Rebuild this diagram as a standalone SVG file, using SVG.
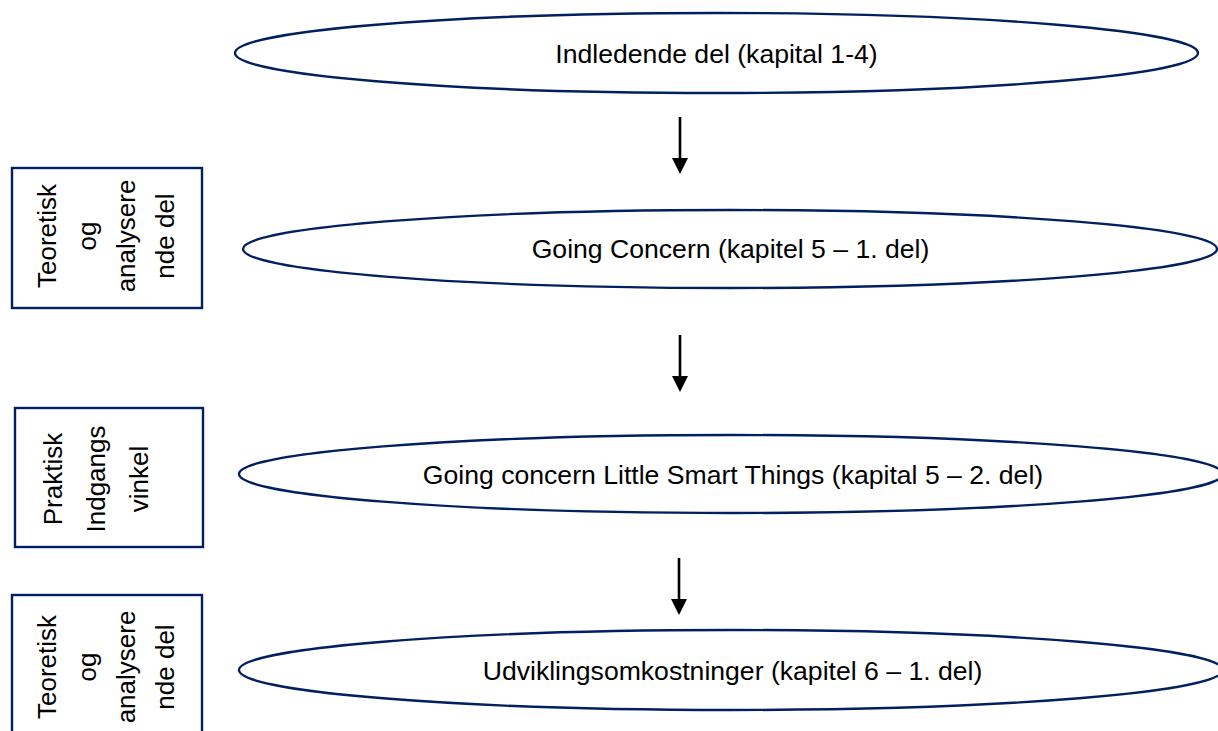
<svg xmlns="http://www.w3.org/2000/svg" width="1218" height="731" viewBox="0 0 1218 731">
<style>
.e{fill:#fff;stroke:#002060;stroke-width:2.4}
.b{fill:#fff;stroke:#002060;stroke-width:2.4}
.t{font-family:"Liberation Sans",Arial,sans-serif;font-size:26px;fill:#000;text-anchor:middle}
.m{font-size:26.6px}
.c{stroke:#000;stroke-width:2.6;fill:none}
</style>
<g id="connectors">
<line class="c" x1="680" y1="117" x2="680" y2="158"/>
<path d="M672,158 L688,158 L680,174 Z" fill="#000"/>
<line class="c" x1="680" y1="335" x2="680" y2="376"/>
<path d="M672,376 L688,376 L680,392 Z" fill="#000"/>
<line class="c" x1="679" y1="558" x2="679" y2="599"/>
<path d="M671,599 L687,599 L679,615 Z" fill="#000"/>
</g>
<g id="n1">
<ellipse class="e" cx="716.5" cy="53" rx="481.5" ry="40"/>
<text class="t m" x="716.5" y="63">Indledende del (kapital 1-4)</text>
</g>
<g id="n2">
<ellipse class="e" cx="730" cy="249" rx="487" ry="39"/>
<text class="t m" x="730.5" y="258">Going Concern (kapitel 5 – 1. del)</text>
</g>
<g id="n3">
<ellipse class="e" cx="731" cy="474" rx="492" ry="39"/>
<text class="t m" x="733" y="484">Going concern Little Smart Things (kapital 5 – 2. del)</text>
</g>
<g id="n4">
<ellipse class="e" cx="731" cy="670" rx="492" ry="40"/>
<text class="t m" x="732.5" y="680">Udviklingsomkostninger (kapitel 6 – 1. del)</text>
</g>
<g id="box1">
<rect class="b" x="12" y="168" width="190" height="140"/>
<text class="t" transform="translate(56,236) rotate(-90)">Teoretisk</text>
<text class="t" transform="translate(96,236) rotate(-90)">og</text>
<text class="t" transform="translate(135,236) rotate(-90)">analysere</text>
<text class="t" transform="translate(174,236) rotate(-90)">nde del</text>
</g>
<g id="box2">
<rect class="b" x="15" y="408" width="188" height="139"/>
<text class="t" transform="translate(62,479) rotate(-90)">Praktisk</text>
<text class="t" transform="translate(105,479) rotate(-90)">Indgangs</text>
<text class="t" transform="translate(148,479) rotate(-90)">vinkel</text>
</g>
<g id="box3">
<rect class="b" x="12" y="595" width="190" height="150"/>
<text class="t" transform="translate(56,667) rotate(-90)">Teoretisk</text>
<text class="t" transform="translate(96,667) rotate(-90)">og</text>
<text class="t" transform="translate(135,667) rotate(-90)">analysere</text>
<text class="t" transform="translate(174,667) rotate(-90)">nde del</text>
</g>
</svg>
